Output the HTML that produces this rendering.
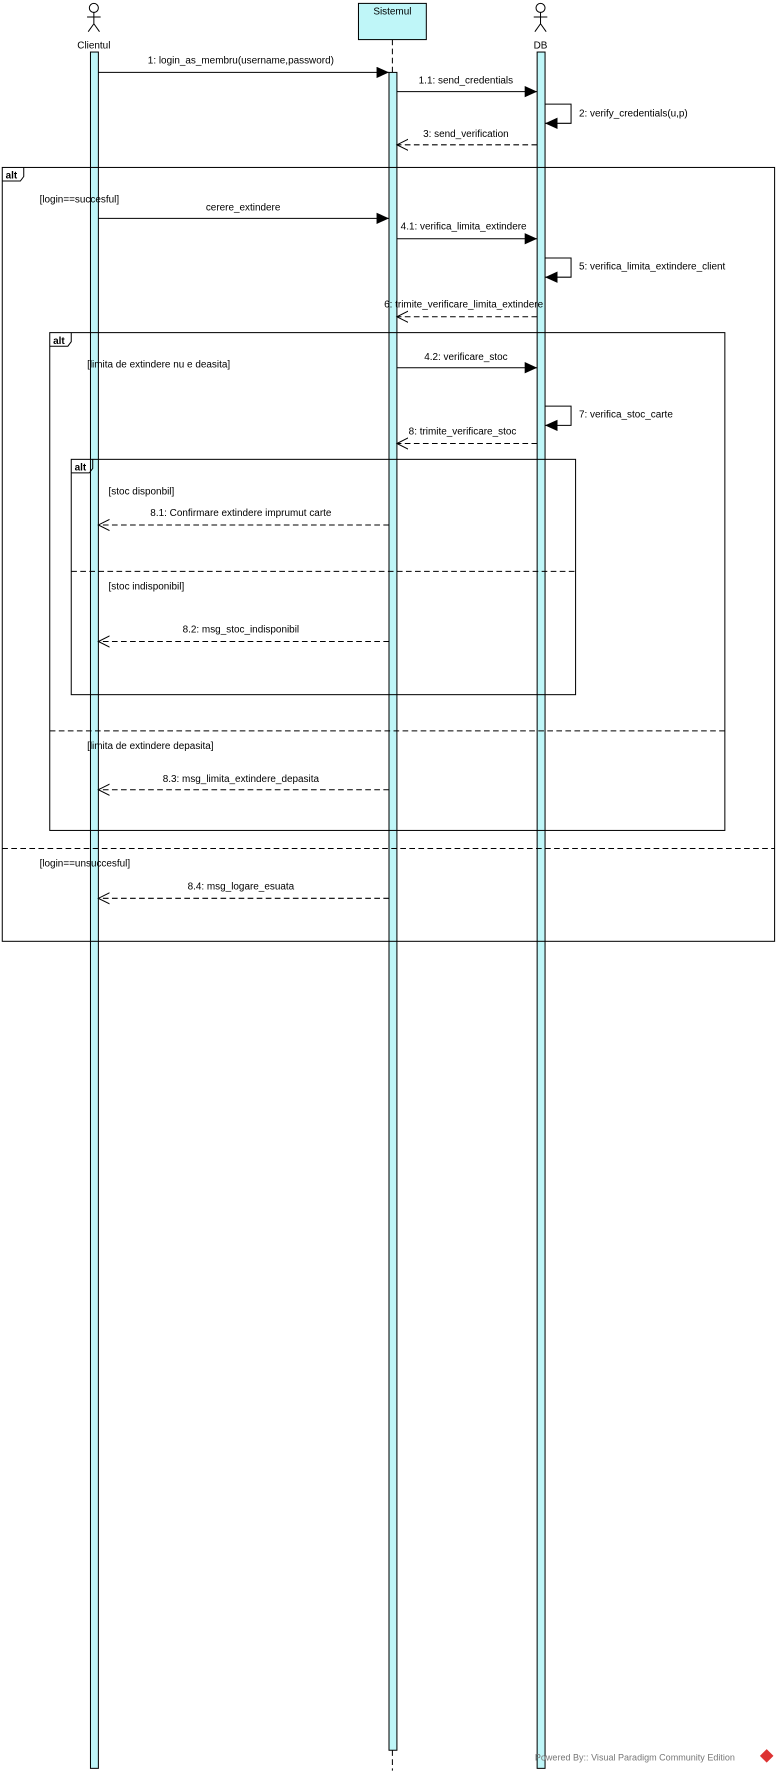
<!DOCTYPE html>
<html><head><meta charset="utf-8"><style>
html,body{margin:0;padding:0;background:#fff;}
svg{display:block}
text{font-family:"Liberation Sans",sans-serif;font-size:8.8px;fill:#000}
</style></head><body>
<svg width="778" height="1774" viewBox="0 0 688 1568" preserveAspectRatio="none" xmlns="http://www.w3.org/2000/svg">
<defs>
<marker id="f" markerWidth="12" markerHeight="10" refX="11" refY="5" orient="auto" markerUnits="userSpaceOnUse"><path d="M0,0 L11,5 L0,10 Z" fill="#000"/></marker>
<marker id="o" markerWidth="12" markerHeight="12" refX="10" refY="6" orient="auto" markerUnits="userSpaceOnUse"><path d="M0,1 L10,6 L0,11" fill="none" stroke="#000" stroke-width="0.9"/></marker>
</defs>
<g stroke="#000" stroke-width="0.9" fill="none">
<circle cx="83" cy="7" r="4"/><path d="M83,11 V21 M77,15 H89 M83,21 L78,28 M83,21 L88,28"/>
<circle cx="478" cy="7" r="4"/><path d="M478,11 V21 M472,15 H484 M478,21 L473,28 M478,21 L483,28"/>
<rect x="317" y="3" width="60" height="32" fill="#bff6f8"/>
<path d="M347,35 V1565" stroke-dasharray="5,3"/>
<rect x="80" y="46" width="7" height="1517" fill="#bff6f8"/>
<rect x="344" y="64" width="7" height="1483" fill="#bff6f8"/>
<rect x="475" y="46" width="7" height="1517" fill="#bff6f8"/>
<rect x="2" y="148" width="683" height="684"/>
<path d="M2,750 H685" stroke-dasharray="5,3"/>
<path d="M2,160 H18 L21,156 V148"/>
<rect x="44" y="294" width="597" height="440"/>
<path d="M44,646 H641" stroke-dasharray="5,3"/>
<path d="M44,306 H60 L63,302 V294"/>
<rect x="63" y="406" width="446" height="208"/>
<path d="M63,505 H509" stroke-dasharray="5,3"/>
<path d="M63,418 H79 L82,414 V406"/>
<path d="M87,64 H344" marker-end="url(#f)"/>
<path d="M351,81 H475" marker-end="url(#f)"/>
<path d="M482,92 H505 V109 H482" marker-end="url(#f)"/>
<path d="M475,128 H351" stroke-dasharray="5,3" marker-end="url(#o)"/>
<path d="M87,193 H344" marker-end="url(#f)"/>
<path d="M351,211 H475" marker-end="url(#f)"/>
<path d="M482,228 H505 V245 H482" marker-end="url(#f)"/>
<path d="M475,280 H351" stroke-dasharray="5,3" marker-end="url(#o)"/>
<path d="M351,325 H475" marker-end="url(#f)"/>
<path d="M482,359 H505 V376 H482" marker-end="url(#f)"/>
<path d="M475,392 H351" stroke-dasharray="5,3" marker-end="url(#o)"/>
<path d="M344,464 H87" stroke-dasharray="5,3" marker-end="url(#o)"/>
<path d="M344,567 H87" stroke-dasharray="5,3" marker-end="url(#o)"/>
<path d="M344,698 H87" stroke-dasharray="5,3" marker-end="url(#o)"/>
<path d="M344,794 H87" stroke-dasharray="5,3" marker-end="url(#o)"/>
</g>
<text x="83" y="43" text-anchor="middle">Clientul</text>
<text x="478" y="43" text-anchor="middle">DB</text>
<text x="347" y="13" text-anchor="middle">Sistemul</text>
<text x="5" y="158" style="font-weight:bold">alt</text><text x="47" y="304" style="font-weight:bold">alt</text><text x="66" y="416" style="font-weight:bold">alt</text>
<text x="213" y="56" text-anchor="middle">1: login_as_membru(username,password)</text>
<text x="412" y="74" text-anchor="middle">1.1: send_credentials</text>
<text x="512" y="103">2: verify_credentials(u,p)</text>
<text x="412" y="121" text-anchor="middle">3: send_verification</text>
<text x="35" y="179">[login==succesful]</text>
<text x="215" y="186" text-anchor="middle">cerere_extindere</text>
<text x="410" y="203" text-anchor="middle">4.1: verifica_limita_extindere</text>
<text x="512" y="238">5: verifica_limita_extindere_client</text>
<text x="410" y="272" text-anchor="middle">6: trimite_verificare_limita_extindere</text>
<text x="77" y="325">[limita de extindere nu e deasita]</text>
<text x="412" y="318" text-anchor="middle">4.2: verificare_stoc</text>
<text x="512" y="369">7: verifica_stoc_carte</text>
<text x="409" y="384" text-anchor="middle">8: trimite_verificare_stoc</text>
<text x="96" y="437">[stoc disponbil]</text>
<text x="213" y="456" text-anchor="middle">8.1: Confirmare extindere imprumut carte</text>
<text x="96" y="521">[stoc indisponibil]</text>
<text x="213" y="559" text-anchor="middle">8.2: msg_stoc_indisponibil</text>
<text x="77" y="662">[limita de extindere depasita]</text>
<text x="213" y="691" text-anchor="middle">8.3: msg_limita_extindere_depasita</text>
<text x="35" y="766">[login==unsuccesful]</text>
<text x="213" y="786" text-anchor="middle">8.4: msg_logare_esuata</text>
<text x="473" y="1556" style="fill:#777;font-size:8px">Powered By:: Visual Paradigm Community Edition</text>
<path d="M678,1546 L684,1552 L678,1558 L672,1552 Z" fill="#d33"/>
</svg>
</body></html>
